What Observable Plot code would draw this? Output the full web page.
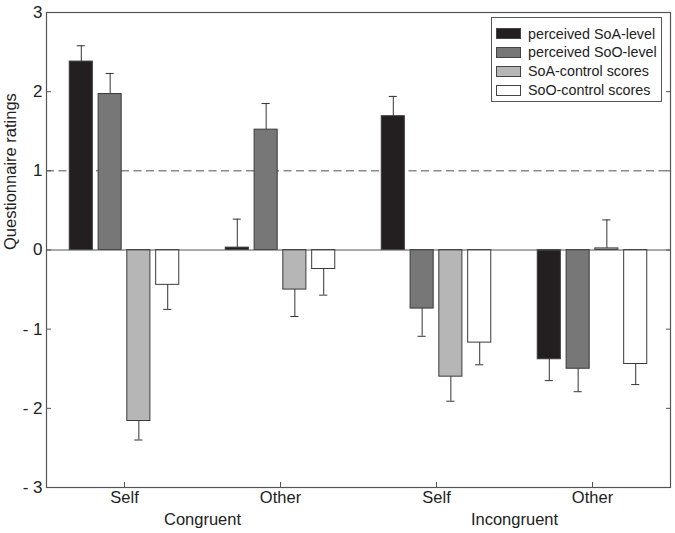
<!DOCTYPE html>
<html>
<head>
<meta charset="utf-8">
<script src="https://cdn.jsdelivr.net/npm/d3@7"></script>
<script src="https://cdn.jsdelivr.net/npm/@observablehq/plot@0.6"></script>
<style>
  html, body { margin: 0; padding: 0; background: #fff; }
  #wrap { position: relative; width: 675px; height: 533px; font-family: "Liberation Sans", Arial, sans-serif; }
  #legend { position: absolute; left: 491px; top: 17px; width: 171px; height: 85px; border: 1px solid #555; background: #fff; box-sizing: border-box; }
  .row { position: absolute; left: 4px; height: 19px; display: flex; align-items: center; }
  .sw { width: 25px; height: 11px; box-sizing: border-box; border: 1px solid #444; margin-right: 7px; flex: none; }
  .lab { font-size: 14.3px; color: #222; white-space: nowrap; font-family: "Liberation Sans", Arial, sans-serif; }
</style>
</head>
<body>
<div id="wrap"></div>
<script>
// ---- data ----
const conditions = ["Self", "Other", "Self", "Other"];
const groups = ["Congruent", "Incongruent"];
const seriesNames = ["perceived SoA-level", "perceived SoO-level", "SoA-control scores", "SoO-control scores"];
const seriesColors = ["#231f20", "#777777", "#b6b6b6", "#ffffff"];

const soaLevel      = [2.38, 0.03, 1.69, -1.38];
const sooLevel      = [1.97, 1.52, -0.74, -1.50];
const soaControl    = [-2.16, -0.50, -1.60, 0.02];
const sooControl    = [-0.44, -0.24, -1.17, -1.44];

const soaLevelErr   = [0.20, 0.36, 0.25, 0.27];
const sooLevelErr   = [0.26, 0.33, 0.35, 0.29];
const soaControlErr = [0.24, 0.34, 0.31, 0.36];
const sooControlErr = [0.31, 0.33, 0.28, 0.26];

const yTicks = [-3, -2, -1, 0, 1, 2, 3];
const referenceLevel = 1;

// ---- build table ----
const values = [soaLevel, sooLevel, soaControl, sooControl];
const errors = [soaLevelErr, sooLevelErr, soaControlErr, sooControlErr];
const offsets = [-0.277, -0.092, 0.092, 0.277];
const halfW = 0.074;
const capHalf = 0.026;

const rows = [];
conditions.forEach((c, i) => {
  values.forEach((arr, s) => {
    const v = arr[i], e = errors[s][i];
    const xc = i + 1 + offsets[s];
    rows.push({
      cond: i + 1, series: seriesNames[s], value: v, err: e,
      x1: xc - halfW, x2: xc + halfW, xc,
      yEnd: v + (v >= 0 ? e : -e)
    });
  });
});
const groupLabels = groups.map((g, k) => ({ name: g, x: (2 * k + 1 + 2 * k + 2) / 2 }));

const fmt = d => d < 0 ? "- " + Math.abs(d) : String(d);

const plot = Plot.plot({
  width: 675,
  height: 533,
  marginLeft: 46,
  marginRight: 5,
  marginTop: 12,
  marginBottom: 46,
  style: { fontFamily: "Liberation Sans, Arial, sans-serif", fontSize: "16px", color: "#222", background: "#fff" },
  x: { domain: [0.5, 4.5] },
  y: { domain: [-3, 3] },
  color: { domain: seriesNames, range: seriesColors },
  marks: [
    Plot.ruleY([referenceLevel], { stroke: "#8a8a8a", strokeWidth: 1.5, strokeDasharray: "8,4.5" }),
    Plot.rectY(rows, { x1: "x1", x2: "x2", y1: 0, y2: "value", fill: "series", stroke: "#3a3a3a", strokeWidth: 1 }),
    Plot.ruleY([0], { stroke: "#555", strokeWidth: 1 }),
    Plot.ruleX(rows, { x: "xc", y1: "value", y2: "yEnd", stroke: "#333", strokeWidth: 1 }),
    Plot.ruleY(rows, { y: "yEnd", x1: d => d.xc - capHalf, x2: d => d.xc + capHalf, stroke: "#333", strokeWidth: 1 }),
    Plot.frame({ stroke: "#555", strokeWidth: 1.2 }),
    Plot.axisY({ ticks: yTicks, tickSize: 0, tickPadding: 4, tickFormat: fmt, fontSize: 17, fill: "#222", label: null }),
    Plot.axisY({ ticks: yTicks, tickSize: -5, fill: "none", stroke: "#555", label: null, tickFormat: null }),
    Plot.axisY({ anchor: "right", ticks: yTicks, tickSize: -5, fill: "none", stroke: "#555", label: null, tickFormat: null }),
    Plot.axisX({ ticks: [1, 2, 3, 4], tickSize: 0, tickPadding: 4, tickFormat: d => conditions[d - 1], fontSize: 16.5, fill: "#222", label: null }),
    Plot.axisX({ ticks: [1, 2, 3, 4], tickSize: -5, fill: "none", stroke: "#555", label: null, tickFormat: null }),
    Plot.text(groupLabels, { x: "x", text: "name", frameAnchor: "bottom", dy: 37, fontSize: 16.5, fill: "#222" }),
    Plot.text(["Questionnaire ratings"], { text: d => d, frameAnchor: "left", dx: -36, rotate: -90, fontSize: 16.5, fill: "#222" })
  ]
});

const wrap = document.getElementById("wrap");
wrap.appendChild(plot);

// legend (inside plot area, top-right)
const legend = document.createElement("div");
legend.id = "legend";
seriesNames.forEach((name, s) => {
  const row = document.createElement("div");
  row.className = "row";
  row.style.top = (6 + s * 18.9) + "px";
  const sw = document.createElement("div");
  sw.className = "sw";
  sw.style.background = seriesColors[s];
  const lab = document.createElement("span");
  lab.className = "lab";
  lab.textContent = name;
  row.appendChild(sw);
  row.appendChild(lab);
  legend.appendChild(row);
});
wrap.appendChild(legend);
</script>
</body>
</html>
